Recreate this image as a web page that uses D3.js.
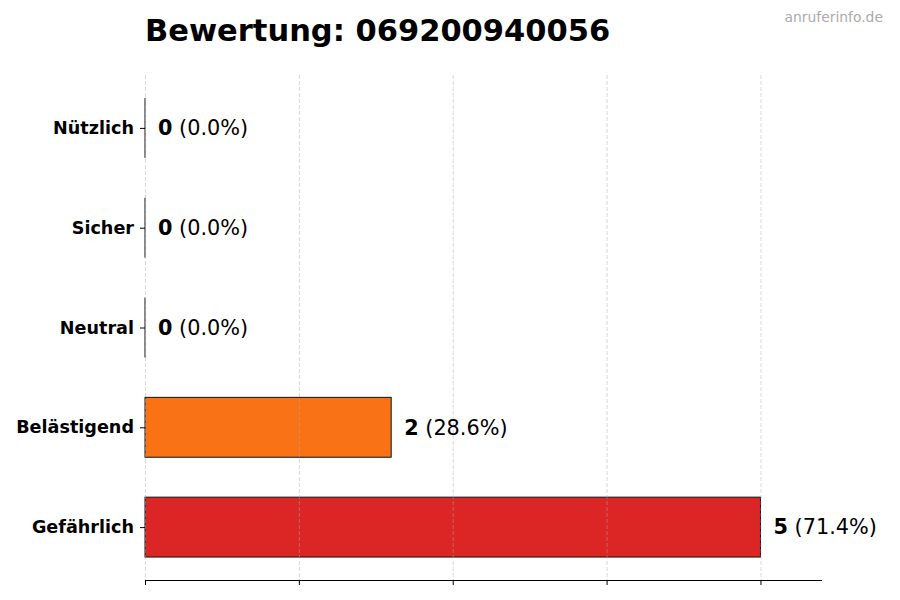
<!DOCTYPE html>
<html>
<head>
<meta charset="utf-8">
<script src="https://cdn.jsdelivr.net/npm/d3@7"></script>
<style>
  html, body { margin: 0; padding: 0; background: #fff; }
  svg text { font-family: "DejaVu Sans", sans-serif; }
</style>
</head>
<body>
<div id="chart"></div>
<script>
const categories = ["Gefährlich", "Belästigend", "Neutral", "Sicher", "Nützlich"];
const values = [5, 2, 0, 0, 0];
const colors = ["#dc2626", "#f97316", "#9ca3af", "#22c55e", "#3b82f6"];
const xTicks = [0, 1.25, 2.5, 3.75, 5];
const titleText = "Bewertung: 069200940056";
const watermark = "anruferinfo.de";

const W = 900, H = 600;
const margin = { left: 145, right: 78, top: 75, bottom: 20 };
const total = d3.sum(values);
const data = categories.map((c, i) => ({ cat: c, value: values[i], color: colors[i], pct: total ? values[i] / total * 100 : 0 }));

const svg = d3.select("#chart").append("svg").attr("width", W).attr("height", H);

const x = d3.scaleLinear().domain([0, 5.5]).range([margin.left, W - margin.right]);
const y = d3.scalePoint().domain(categories).range([H - margin.bottom, margin.top]).padding(0.53);
const barH = y.step() * 0.6;

// bars
svg.append("g").selectAll("rect").data(data).join("rect")
  .attr("x", x(0))
  .attr("y", d => y(d.cat) - barH / 2)
  .attr("width", d => x(d.value) - x(0))
  .attr("height", barH)
  .attr("fill", d => d.color)
  .attr("stroke", "#111")
  .attr("stroke-width", 1);

// zero-width bar edges
svg.append("g").selectAll("line").data(data.filter(d => d.value === 0)).join("line")
  .attr("x1", d => x(d.value)).attr("x2", d => x(d.value))
  .attr("y1", d => y(d.cat) - barH / 2).attr("y2", d => y(d.cat) + barH / 2)
  .attr("stroke", "#111").attr("stroke-width", 1);

// grid (on top)
svg.append("g").selectAll("line").data(xTicks).join("line")
  .attr("x1", d => x(d) + 0.5).attr("x2", d => x(d) + 0.5)
  .attr("y1", margin.top).attr("y2", H - margin.bottom)
  .attr("stroke", "rgba(170,170,170,0.45)")
  .attr("stroke-width", 1)
  .attr("stroke-dasharray", "4,2");

// x axis
const xAxis = svg.append("g")
  .attr("transform", `translate(0,${H - margin.bottom})`)
  .call(d3.axisBottom(x).tickValues(xTicks).tickSize(5).tickFormat(""));
xAxis.select(".domain").attr("stroke", "#000").attr("d", `M${x(0)},0.5H${W - margin.right}`);
xAxis.selectAll(".tick line").attr("stroke", "#000");

// y axis (ticks + labels only)
const yAxis = svg.append("g")
  .attr("transform", `translate(${margin.left},0)`)
  .call(d3.axisLeft(y).tickSize(5).tickPadding(6));
yAxis.select(".domain").remove();
yAxis.selectAll(".tick line").attr("stroke", "#000");
yAxis.selectAll(".tick text")
  .attr("font-family", "DejaVu Sans")
  .attr("font-size", "17.6px")
  .attr("font-weight", "bold")
  .attr("fill", "#000");

// value labels
const lbl = svg.append("g").selectAll("text").data(data).join("text")
  .attr("x", d => x(d.value) + 13)
  .attr("y", d => y(d.cat))
  .attr("dy", "0.35em")
  .attr("font-size", "20.8px")
  .attr("fill", "#000");
lbl.append("tspan").attr("font-weight", "bold").text(d => d.value);
lbl.append("tspan").text(d => " (" + d.pct.toFixed(1) + "%)");

// title
svg.append("text")
  .attr("x", margin.left).attr("y", 41)
  .attr("font-size", "30.5px").attr("font-weight", "bold").attr("fill", "#000")
  .text(titleText);

// watermark
svg.append("text")
  .attr("x", 883).attr("y", 22)
  .attr("text-anchor", "end")
  .attr("font-size", "13.9px").attr("fill", "#aaa")
  .text(watermark);
</script>
</body>
</html>
